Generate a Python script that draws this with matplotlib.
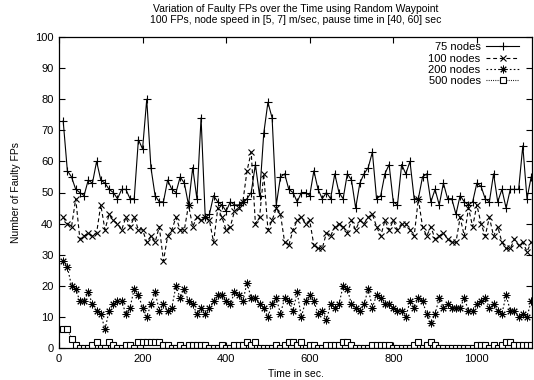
import matplotlib
matplotlib.use("Agg")
import matplotlib.pyplot as plt

plt.rcParams['font.family'] = ['Liberation Sans', 'DejaVu Sans']

# sample times (sec)
time_sec = list(range(10, 1131, 10))

nodes_75 = [73, 57, 55, 51, 50, 49, 54, 53, 60, 54,
            53, 51, 50, 48, 51, 51, 48, 48, 67, 64,
            80, 58, 49, 47, 47, 54, 51, 50, 55, 53,
            46, 58, 48, 74, 42, 43, 49, 47, 46, 44,
            47, 46, 46, 47, 48, 50, 59, 49, 69, 79,
            74, 46, 55, 56, 51, 50, 47, 50, 50, 49,
            57, 51, 48, 50, 48, 56, 50, 48, 56, 54,
            45, 53, 56, 58, 63, 48, 49, 56, 59, 47,
            46, 59, 56, 60, 48, 48, 55, 56, 47, 51,
            46, 53, 48, 48, 43, 49, 47, 46, 47, 53,
            52, 48, 47, 56, 47, 51, 45, 51, 51, 51,
            65, 48, 55]

nodes_100 = [42, 40, 39, 48, 35, 36, 37, 36, 37, 46,
             38, 43, 41, 40, 38, 42, 39, 42, 38, 38,
             34, 36, 34, 39, 28, 36, 38, 42, 38, 38,
             46, 39, 42, 41, 42, 41, 34, 45, 42, 38,
             39, 44, 45, 47, 57, 63, 40, 42, 56, 38,
             41, 45, 43, 34, 33, 38, 41, 42, 40, 41,
             33, 32, 32, 37, 36, 39, 40, 39, 37, 41,
             38, 41, 40, 42, 43, 39, 36, 41, 38, 41,
             38, 40, 40, 38, 36, 48, 39, 36, 39, 35,
             36, 37, 35, 34, 34, 42, 36, 45, 39, 46,
             40, 36, 42, 36, 39, 34, 32, 32, 35, 33,
             34, 31, 34]

nodes_200 = [28, 26, 20, 19, 15, 15, 18, 14, 12, 11,
             6, 12, 14, 15, 15, 11, 13, 19, 17, 13,
             10, 14, 18, 12, 14, 12, 13, 20, 16, 19,
             15, 14, 11, 13, 11, 13, 15, 17, 17, 15,
             14, 18, 17, 15, 21, 16, 16, 14, 13, 10,
             14, 16, 11, 16, 15, 12, 18, 10, 15, 17,
             15, 11, 12, 9, 14, 13, 14, 20, 19, 14,
             13, 12, 14, 19, 13, 17, 16, 14, 14, 13,
             12, 12, 10, 15, 13, 16, 15, 11, 8, 11,
             16, 13, 14, 13, 13, 13, 16, 12, 12, 14,
             15, 16, 13, 14, 12, 11, 17, 12, 12, 10,
             11, 10, 15]

nodes_500 = [6, 6, 3, 1, 0, 0, 0, 1, 2, 0,
             0, 2, 1, 0, 0, 1, 1, 0, 2, 2,
             2, 2, 2, 2, 1, 1, 0, 0, 1, 0,
             1, 1, 1, 1, 1, 0, 0, 0, 1, 0,
             0, 1, 1, 1, 2, 1, 2, 0, 0, 0,
             0, 1, 0, 1, 2, 2, 1, 2, 0, 1,
             1, 0, 0, 1, 1, 1, 1, 2, 2, 1,
             0, 0, 0, 0, 1, 1, 1, 1, 1, 0,
             0, 0, 0, 0, 1, 2, 0, 1, 2, 1,
             0, 0, 0, 0, 0, 0, 0, 0, 0, 1,
             1, 1, 0, 1, 0, 1, 2, 2, 1, 1,
             1, 1, 1]

series_labels = ["75 nodes", "100 nodes", "200 nodes", "500 nodes"]
x_ticks = [0, 200, 400, 600, 800, 1000]
y_ticks = list(range(0, 101, 10))

fig = plt.figure(figsize=(5.34, 3.80), dpi=100)
ax = fig.add_axes([59 / 534, 1 - 348 / 380, (532 - 59) / 534, (348 - 37) / 380])

lw = 0.8
ax.plot(time_sec, nodes_75, color='black', lw=lw, ls='-', marker='+',
        ms=6, mew=0.8, label=series_labels[0])
ax.plot(time_sec, nodes_100, color='black', lw=lw, ls=(0, (3.5, 2.5)), marker='x',
        ms=4.5, mew=0.8, label=series_labels[1])
ax.plot(time_sec, nodes_200, color='black', lw=lw, ls=(0, (1.5, 2)), marker=(8, 2, 0),
        ms=5.5, mew=0.7, label=series_labels[2])
ax.plot(time_sec, nodes_500, color='black', lw=lw, ls=(0, (0.8, 1.2)), marker='s',
        ms=4, mew=0.8, mfc='white', label=series_labels[3])

ax.set_xlim(0, 1132)
ax.set_ylim(0, 100)
ax.set_xticks(x_ticks)
ax.set_yticks(y_ticks)
ax.tick_params(direction='in', top=True, right=True, length=4, width=0.8,
               labelsize=8, pad=4)
for s in ax.spines.values():
    s.set_linewidth(0.9)

ax.set_xlabel("Time in sec.", fontsize=7.5, labelpad=4)
ax.set_ylabel("Number of Faulty FPs", fontsize=7.5, labelpad=10)

fig.text(295.5 / 534, 1 - 9 / 380,
         "Variation of Faulty FPs over the Time using Random Waypoint",
         ha='center', va='center', fontsize=7.5)
fig.text(295.5 / 534, 1 - 20 / 380,
         "100 FPs, node speed in [5, 7] m/sec, pause time in [40, 60] sec",
         ha='center', va='center', fontsize=7.5)

ax.legend(loc='upper right', frameon=False, markerfirst=False,
          fontsize=8, handlelength=3.0, labelspacing=0.12,
          borderaxespad=0.3, handletextpad=0.5,
          bbox_to_anchor=(0.99, 1.008))

fig.savefig("out.png", dpi=100)
